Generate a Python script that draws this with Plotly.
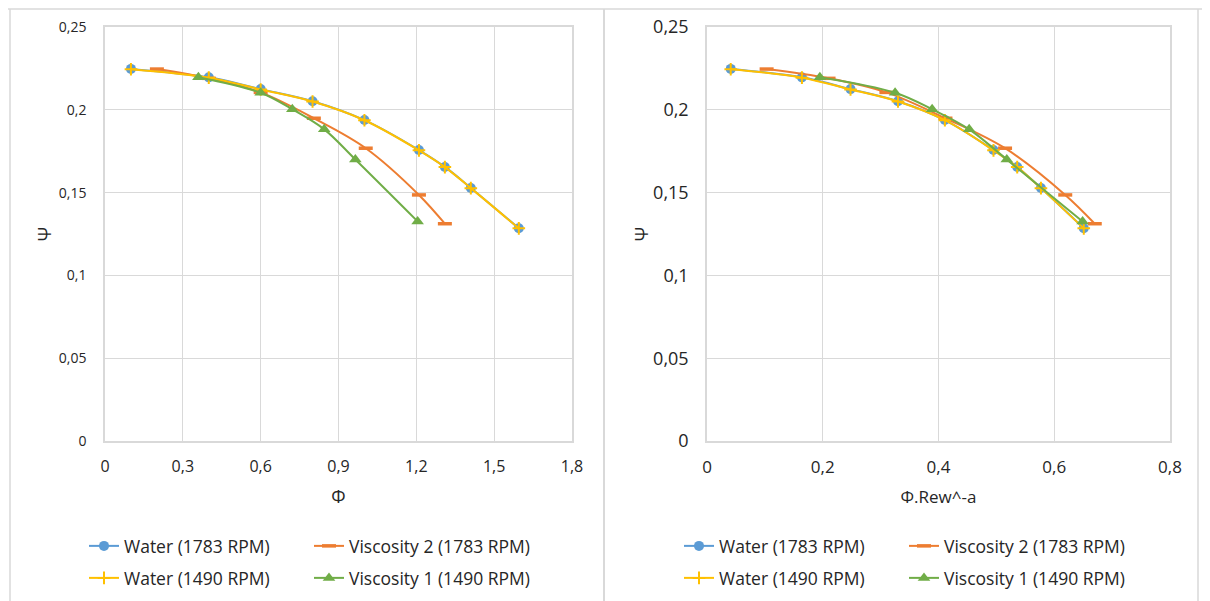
import plotly.graph_objects as go

# ---------------- data ----------------
series_names = ["Water (1783 RPM)", "Viscosity 2 (1783 RPM)", "Water (1490 RPM)", "Viscosity 1 (1490 RPM)"]

# Left chart: Psi vs Phi
water1783_phi = [0.10, 0.40, 0.60, 0.80, 1.00, 1.21, 1.31, 1.41, 1.595]
water1783_psi = [0.2247, 0.2196, 0.2125, 0.2052, 0.1938, 0.1757, 0.1655, 0.1528, 0.1285]
visc2_phi = [0.20, 0.40, 0.60, 0.805, 1.005, 1.21, 1.31]
visc2_psi = [0.2246, 0.2190, 0.2105, 0.1949, 0.1768, 0.1486, 0.1312]
water1490_phi = [0.10, 0.40, 0.60, 0.80, 1.00, 1.21, 1.31, 1.41, 1.595]
water1490_psi = [0.2245, 0.2194, 0.2123, 0.2050, 0.1937, 0.1755, 0.1654, 0.1527, 0.1284]
visc1_phi = [0.36, 0.60, 0.722, 0.845, 0.965, 1.205]
visc1_psi = [0.2197, 0.2103, 0.2003, 0.1882, 0.1700, 0.1326]

# Right chart: Psi vs Phi.Rew^-a
water1783_phir = [0.041, 0.164, 0.248, 0.330, 0.411, 0.495, 0.536, 0.577, 0.651]
visc2_phir = [0.103, 0.210, 0.310, 0.412, 0.515, 0.619, 0.670]
water1490_phir = [0.041, 0.164, 0.248, 0.330, 0.411, 0.495, 0.536, 0.577, 0.651]
visc1_phir = [0.195, 0.325, 0.389, 0.453, 0.518, 0.649]

# ticks
y_tickvals = [0, 0.05, 0.1, 0.15, 0.2, 0.25]
y_ticktext = ["0", "0,05", "0,1", "0,15", "0,2", "0,25"]
xl_tickvals = [0, 0.3, 0.6, 0.9, 1.2, 1.5, 1.8]
xl_ticktext = ["0", "0,3", "0,6", "0,9", "1,2", "1,5", "1,8"]
xr_tickvals = [0, 0.2, 0.4, 0.6, 0.8]
xr_ticktext = ["0", "0,2", "0,4", "0,6", "0,8"]

# ---------------- styling ----------------
FONT = "Open Sans"
TXT = "#262626"
GRID = "#d9d9d9"
BLUE, ORANGE, YELLOW, GREEN = "#5B9BD5", "#ED7D31", "#FFC000", "#70AD47"

styles = [
    dict(color=BLUE, marker=dict(symbol="circle", size=10, color=BLUE)),
    dict(color=ORANGE, marker=dict(symbol="line-ew", size=10, color=ORANGE, line=dict(color=ORANGE, width=3.5))),
    dict(color=YELLOW, marker=dict(symbol="cross-thin", size=9, color=YELLOW, line=dict(color=YELLOW, width=2))),
    dict(color=GREEN, marker=dict(symbol="triangle-up", size=11, color=GREEN)),
]

left_data = [(water1783_phi, water1783_psi), (visc2_phi, visc2_psi),
             (water1490_phi, water1490_psi), (visc1_phi, visc1_psi)]
right_data = [(water1783_phir, water1783_psi), (visc2_phir, visc2_psi),
              (water1490_phir, water1490_psi), (visc1_phir, visc1_psi)]

# legend assignment: row 1 / row 2 per chart
left_legends = ["legend", "legend", "legend3", "legend3"]
right_legends = ["legend2", "legend2", "legend4", "legend4"]

fig = go.Figure()
for name, st, (x, y), lg in zip(series_names, styles, left_data, left_legends):
    fig.add_trace(go.Scatter(x=x, y=y, name=name, mode="lines+markers",
                             line=dict(color=st["color"], width=2, shape="spline", smoothing=1.0),
                             marker=st["marker"], xaxis="x", yaxis="y", legend=lg))
for name, st, (x, y), lg in zip(series_names, styles, right_data, right_legends):
    fig.add_trace(go.Scatter(x=x, y=y, name=name, mode="lines+markers",
                             line=dict(color=st["color"], width=2, shape="spline", smoothing=1.0),
                             marker=st["marker"], xaxis="x2", yaxis="y2", legend=lg))

# page body has an 8px margin: figure occupies screen 8..1210, 8..601
OFF = 8
FW, FH = 1210 - OFF, 601 - OFF
def sx(s): return (s - OFF) / FW
def sy(s): return 1 - (s - OFF) / FH

axis_common = dict(showgrid=True, gridcolor=GRID, gridwidth=1, zeroline=False,
                   showline=True, linecolor=GRID, linewidth=1.5, mirror=True,
                   ticks="", color=TXT, automargin=False)

def legend_at(x_s, y_s):
    return dict(orientation="h", x=sx(x_s), y=sy(y_s), xanchor="left", yanchor="middle",
                xref="paper", yref="paper",
                entrywidth=180, entrywidthmode="pixels", font=dict(size=17.5, color=TXT),
                itemwidth=30, tracegroupgap=0, bgcolor="rgba(0,0,0,0)",
                borderwidth=0)

fig.update_layout(
    width=FW, height=FH,
    margin=dict(l=0, r=0, t=0, b=0, pad=0, autoexpand=False),
    paper_bgcolor="white", plot_bgcolor="white",
    font=dict(family=FONT, color=TXT, size=16),
    xaxis=dict(axis_common, domain=[sx(105), sx(572)], range=[0, 1.8],
               tickvals=xl_tickvals, ticktext=xl_ticktext, tickfont=dict(size=16),
               ticklabelstandoff=10,
               title=dict(text="Φ", font=dict(size=18), standoff=14), anchor="y"),
    yaxis=dict(axis_common, domain=[sy(441), sy(27)], range=[0, 0.25],
               tickvals=y_tickvals, ticktext=y_ticktext, tickfont=dict(size=14),
               ticklabelstandoff=14,
               title=dict(text="Ψ", font=dict(size=18), standoff=3), anchor="x"),
    xaxis2=dict(axis_common, domain=[sx(707), sx(1170)], range=[0, 0.8],
                tickvals=xr_tickvals, ticktext=xr_ticktext, tickfont=dict(size=17),
                ticklabelstandoff=10,
                title=dict(text="Φ.Rew^-a", font=dict(size=17), standoff=14), anchor="y2"),
    yaxis2=dict(axis_common, domain=[sy(441), sy(27)], range=[0, 0.25],
                tickvals=y_tickvals, ticktext=y_ticktext, tickfont=dict(size=18),
                ticklabelstandoff=13,
                title=dict(text="Ψ", font=dict(size=18), standoff=0), anchor="x2"),
    legend=legend_at(84, 546),
    legend3=legend_at(84, 578),
    legend2=legend_at(679, 546),
    legend4=legend_at(679, 578),
    shapes=[
        dict(type="line", xref="paper", yref="paper", x0=0, x1=1, y0=sy(9), y1=sy(9),
             line=dict(color=GRID, width=1.5)),
        dict(type="line", xref="paper", yref="paper", x0=sx(10), x1=sx(10), y0=0, y1=sy(9),
             line=dict(color=GRID, width=1.5)),
        dict(type="line", xref="paper", yref="paper", x0=sx(604), x1=sx(604), y0=0, y1=sy(9),
             line=dict(color=GRID, width=2)),
        dict(type="line", xref="paper", yref="paper", x0=sx(1198), x1=sx(1198), y0=0, y1=sy(9),
             line=dict(color=GRID, width=1.5)),
    ],
)

fig.write_html("out.html")
